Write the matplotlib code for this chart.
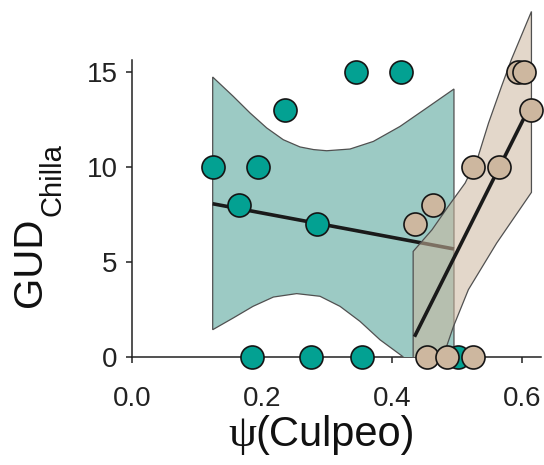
import numpy as np
import matplotlib
matplotlib.use("Agg")
import matplotlib.pyplot as plt

# ---- data ----
# teal group (lower culpeo occupancy)
teal_x = [0.125, 0.195, 0.1655, 0.236, 0.2846, 0.345, 0.415, 0.1856, 0.2754, 0.3548, 0.5025]
teal_y = [10, 10, 8, 13, 7, 15, 15, 0, 0, 0, 0]
teal_fit_x = [0.1246, 0.4958]
teal_fit_y = [8.05, 5.67]
teal_hi_x = [0.1246, 0.1563, 0.182, 0.2077, 0.2332, 0.2589, 0.28, 0.3, 0.3358, 0.3717, 0.4128, 0.4538, 0.4958]
teal_hi_y = [14.72, 13.7, 12.83, 12.04, 11.42, 11.04, 10.9, 10.84, 10.93, 11.33, 12.12, 13.09, 14.09]
teal_lo_x = [0.1246, 0.1563, 0.1866, 0.218, 0.2538, 0.2897, 0.3205, 0.3512, 0.382, 0.4154, 0.45, 0.4958]
teal_lo_y = [1.42, 2.04, 2.65, 3.14, 3.32, 3.18, 2.65, 1.86, 0.89, 0.05, -1.0, -3.0]

# tan group (higher culpeo occupancy)
tan_x = [0.436, 0.464, 0.5255, 0.5655, 0.595, 0.6035, 0.6143, 0.4538, 0.4846, 0.5255]
tan_y = [7, 8, 10, 10, 15, 15, 13, 0, 0, 0]
tan_fit_x = [0.435, 0.61]
tan_fit_y = [1.05, 13.0]
tan_hi_x = [0.433, 0.462, 0.487, 0.513, 0.533, 0.549, 0.569, 0.584, 0.615]
tan_hi_y = [5.54, 6.68, 7.91, 9.14, 10.54, 12.3, 14.23, 15.63, 18.17]
tan_lo_x = [0.433, 0.46, 0.479, 0.495, 0.518, 0.5615, 0.615]
tan_lo_y = [-5.0, -1.9, 0.0, 1.59, 3.53, 5.98, 8.65]

x_ticks = [0.0, 0.2, 0.4, 0.6]
x_tick_labels = ["0.0", "0.2", "0.4", "0.6"]
y_ticks = [0, 5, 10, 15]
y_tick_labels = ["0", "5", "10", "15"]

TEAL = "#03A192"
TEAL_BAND = "#9ccac4"
TAN = "#CDB79F"
EDGE = "#505050"

plt.rcParams["font.family"] = ["Liberation Sans", "DejaVu Sans"]

fig = plt.figure(figsize=(5.44, 4.65), dpi=100)
ax = fig.add_axes([131.7 / 544, 108.3 / 465, 409.5 / 544, 351.5 / 465])
ax.set_xlim(0, 0.63)
ax.set_ylim(0, 18.5)


def band(xs_hi, ys_hi, xs_lo, ys_lo):
    px = np.concatenate([xs_hi, xs_lo[::-1]])
    py = np.concatenate([ys_hi, ys_lo[::-1]])
    return px, py


# teal band + fit + points
px, py = band(teal_hi_x, teal_hi_y, teal_lo_x, teal_lo_y)
ax.fill(px, py, facecolor=TEAL_BAND, edgecolor=EDGE, linewidth=0.9, zorder=1)
ax.plot(teal_fit_x, teal_fit_y, color="#1a1a1a", lw=2.6, zorder=2, solid_capstyle="butt")
ax.scatter(teal_x, teal_y, s=275, color=TEAL, edgecolor="#151515", linewidth=1.2,
           zorder=3, clip_on=False)

# tan band + fit + points
px, py = band(tan_hi_x, tan_hi_y, tan_lo_x, tan_lo_y)
ax.fill(px, py, facecolor=TAN, alpha=0.55, edgecolor="none", zorder=4)
ax.fill(px, py, facecolor="none", edgecolor=EDGE, linewidth=0.9, zorder=4)
ax.plot(tan_fit_x, tan_fit_y, color="#1a1a1a", lw=2.6, zorder=5, solid_capstyle="butt")
ax.scatter(tan_x, tan_y, s=275, color=TAN, edgecolor="#151515", linewidth=1.2,
           zorder=6, clip_on=False)

# axes styling
for s in ["top", "right"]:
    ax.spines[s].set_visible(False)
ax.spines["left"].set_bounds(0, 15.6)
for s in ["left", "bottom"]:
    ax.spines[s].set_linewidth(1.1)
    ax.spines[s].set_color("#222222")
    ax.spines[s].set_zorder(0.5)
ax.set_xticks(x_ticks)
ax.set_xticklabels(x_tick_labels)
ax.set_yticks(y_ticks)
ax.set_yticklabels(y_tick_labels)
ax.tick_params(axis="both", labelsize=20, colors="#222222", length=4, width=1.1)
ax.tick_params(axis="y", pad=6)
ax.tick_params(axis="x", pad=17)

fig.text(228 / 544, 1 - 446 / 465, "ψ", fontsize=32, family=["Liberation Serif", "DejaVu Serif"],
         ha="left", va="baseline", color="#111111")
fig.text(255 / 544, 1 - 446 / 465, "(Culpeo)", fontsize=30, ha="left", va="baseline",
         color="#111111")
fig.text(30 / 544, 1 - 262 / 465, "GUD", fontsize=29, rotation=90, ha="center", va="center",
         color="#111111")
fig.text(53 / 544, 1 - 180 / 465, "Chilla", fontsize=21, rotation=90, ha="center", va="center",
         color="#111111")

fig.savefig("out.png", dpi=100)
